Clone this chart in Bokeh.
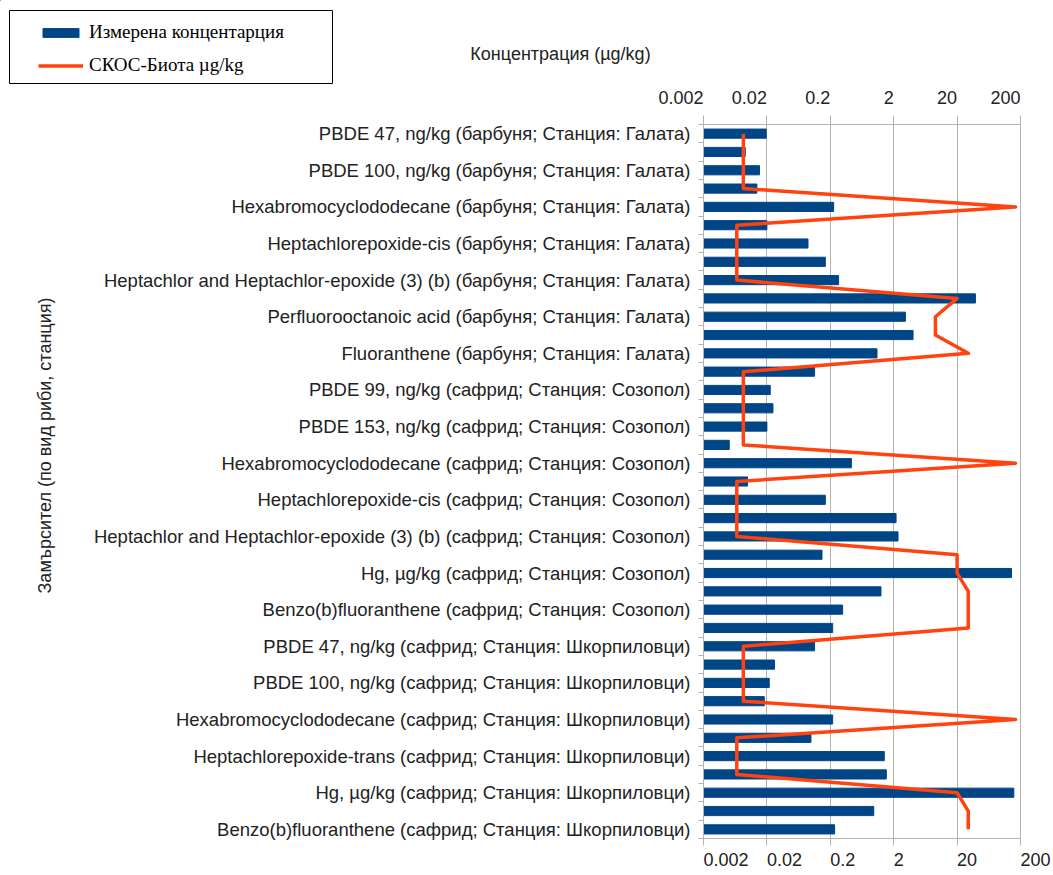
import math
from bokeh.plotting import figure
from bokeh.layouts import column
from bokeh.models import (FixedTicker, LogAxis, Range1d, Legend, LegendItem, Label,
                          Title, ColumnDataSource)
from bokeh.embed import file_html
from bokeh.resources import INLINE

categories = [
    "PBDE 47, ng/kg (барбуня; Станция: Галата)",
    "PBDE 99, ng/kg (барбуня; Станция: Галата)",
    "PBDE 100, ng/kg (барбуня; Станция: Галата)",
    "PBDE 153, ng/kg (барбуня; Станция: Галата)",
    "Hexabromocyclododecane (барбуня; Станция: Галата)",
    "Heptachlor (барбуня; Станция: Галата)",
    "Heptachlorepoxide-cis (барбуня; Станция: Галата)",
    "Heptachlorepoxide-trans (барбуня; Станция: Галата)",
    "Heptachlor and Heptachlor-epoxide (3) (b) (барбуня; Станция: Галата)",
    "Hg, µg/kg (барбуня; Станция: Галата)",
    "Perfluorooctanoic acid (барбуня; Станция: Галата)",
    "Perfluorooctane sulfonic acid (барбуня; Станция: Галата)",
    "Fluoranthene (барбуня; Станция: Галата)",
    "PBDE 47, ng/kg (сафрид; Станция: Созопол)",
    "PBDE 99, ng/kg (сафрид; Станция: Созопол)",
    "PBDE 100, ng/kg (сафрид; Станция: Созопол)",
    "PBDE 153, ng/kg (сафрид; Станция: Созопол)",
    "PBDE 154, ng/kg (сафрид; Станция: Созопол)",
    "Hexabromocyclododecane (сафрид; Станция: Созопол)",
    "Heptachlor (сафрид; Станция: Созопол)",
    "Heptachlorepoxide-cis (сафрид; Станция: Созопол)",
    "Heptachlorepoxide-trans (сафрид; Станция: Созопол)",
    "Heptachlor and Heptachlor-epoxide (3) (b) (сафрид; Станция: Созопол)",
    "Hg (сафрид; Станция: Созопол)",
    "Hg, µg/kg (сафрид; Станция: Созопол)",
    "Fluoranthene (сафрид; Станция: Созопол)",
    "Benzo(b)fluoranthene (сафрид; Станция: Созопол)",
    "Benzo(k)fluoranthene (сафрид; Станция: Созопол)",
    "PBDE 47, ng/kg (сафрид; Станция: Шкорпиловци)",
    "PBDE 99, ng/kg (сафрид; Станция: Шкорпиловци)",
    "PBDE 100, ng/kg (сафрид; Станция: Шкорпиловци)",
    "PBDE 153, ng/kg (сафрид; Станция: Шкорпиловци)",
    "Hexabromocyclododecane (сафрид; Станция: Шкорпиловци)",
    "Heptachlorepoxide-cis (сафрид; Станция: Шкорпиловци)",
    "Heptachlorepoxide-trans (сафрид; Станция: Шкорпиловци)",
    "Heptachlor and Heptachlor-epoxide (3) (b) (сафрид; Станция: Шкорпиловци)",
    "Hg, µg/kg (сафрид; Станция: Шкорпиловци)",
    "Fluoranthene (сафрид; Станция: Шкорпиловци)",
    "Benzo(b)fluoranthene (сафрид; Станция: Шкорпиловци)",
]

measured = [
    0.0195, 0.0091, 0.0153, 0.0139, 0.226, 0.020, 0.089, 0.167, 0.27,
    38.9, 3.06, 4.04, 1.09,
    0.113, 0.0226, 0.0249, 0.020, 0.0051, 0.43, 0.0099, 0.167, 2.18, 2.34,
    0.148, 144.0, 1.26, 0.313, 0.218,
    0.113, 0.0264, 0.0218, 0.0182, 0.218, 0.099, 1.42, 1.53, 157.0, 0.97, 0.234,
]

eqs_biota = [
    0.0085, 0.0085, 0.0085, 0.0085, 167.0, 0.0067, 0.0067, 0.0067, 0.0067,
    20.0, 9.1, 9.1, 30.0,
    0.0085, 0.0085, 0.0085, 0.0085, 0.0085, 167.0, 0.0067, 0.0067, 0.0067, 0.0067,
    20.0, 20.0, 30.0, 30.0, 30.0,
    0.0085, 0.0085, 0.0085, 0.0085, 167.0, 0.0067, 0.0067, 0.0067, 20.0, 30.0, 30.0,
]

x_ticks = [0.002, 0.02, 0.2, 2, 20, 200]
x_tick_labels = ["0.002", "0.02", "0.2", "2", "20", "200"]
x_min, x_max = 0.002, 200

series_names = ["Измерена концентарция", "СКОС-Биота µg/kg"]
x_title = "Концентрация (µg/kg)"
y_title = "Замърсител (по вид риби, станция)"

BAR_COLOR = "#004586"
LINE_COLOR = "#ff420e"
FONT = "Liberation Sans"
TEXT = "#222222"
GRID = "#b3b3b3"

n = len(categories)
idx = list(range(n))
src = ColumnDataSource(dict(y=idx, cat=categories, measured=measured, eqs=eqs_biota,
                            base=[x_min] * n))

HEAD_H = 84
W = 1053

# ---------------- header (legend + x title) ----------------
head = figure(width=W, height=HEAD_H, x_range=Range1d(0, W), y_range=Range1d(HEAD_H, 0),
              output_backend="svg", toolbar_location=None, frame_align=False,
              min_border_left=0, min_border_right=0, min_border_top=0, min_border_bottom=0)
head.axis.visible = False
head.grid.visible = False
head.outline_line_color = None
head.background_fill_color = "white"
head.border_fill_color = "white"

# legend frame
head.quad(left=[9], right=[332], top=[10], bottom=[83], fill_color="white",
          line_color="black", line_width=1)
# legend-only proxies (placed outside the visible header range)
proxy = ColumnDataSource(dict(x=[-500, -400], y=[-500, -500], l=[-500, -500], r=[-400, -400]))
hb = head.hbar(y="y", left="l", right="r", height=0.5, source=proxy,
               fill_color=BAR_COLOR, line_color=BAR_COLOR)
hl = head.line(x="x", y="y", source=proxy, line_color=LINE_COLOR, line_width=3.5)

legend = Legend(items=[LegendItem(label=series_names[0], renderers=[hb]),
                       LegendItem(label=series_names[1], renderers=[hl])],
                location=(38, 8))
legend.border_line_color = None
legend.background_fill_alpha = 0
legend.padding = 0
legend.spacing = 11
legend.margin = 0
legend.glyph_width = 45
legend.glyph_height = 11
legend.label_height = 20
legend.label_standoff = 6
legend.label_text_font = "Liberation Serif"
legend.label_text_font_size = "19px"
legend.label_text_color = "black"
legend.label_text_baseline = "middle"
head.add_layout(legend, "center")

head.add_layout(Label(x=560, y=53, text=x_title, text_align="center",
                      text_baseline="middle", text_font=FONT,
                      text_font_size="18px", text_color=TEXT))

# ---------------- main chart ----------------
p = figure(width=W, height=788, x_axis_type="log",
           x_range=Range1d(x_min, x_max), y_range=Range1d(n - 0.5, -0.5),
           output_backend="svg", toolbar_location=None, frame_align=False,
           min_border_left=703, min_border_right=33, min_border_top=38,
           min_border_bottom=32)
p.background_fill_color = "white"
p.border_fill_color = "white"
p.outline_line_color = GRID

bars = p.hbar(y="y", left="base", right="measured", height=0.5, source=src,
              fill_color=BAR_COLOR, line_color=BAR_COLOR)
line = p.line(x="eqs", y="y", source=src, line_color=LINE_COLOR, line_width=3.5,
              line_join="round")


def pad(s):
    return "".join("\u2008" if c == "." else "\u2007" for c in s)


bottom = p.below[0]
top = LogAxis()
p.add_layout(top, "above")
bottom.major_label_overrides = {t: pad(s) + s for t, s in zip(x_ticks, x_tick_labels)}
top.major_label_overrides = {t: s + pad(s) for t, s in zip(x_ticks, x_tick_labels)}
for ax, tick_len, stand in ((bottom, 7, 4), (top, 9, 8)):
    ax.ticker = FixedTicker(ticks=x_ticks)
    ax.axis_line_color = GRID
    ax.major_tick_line_color = GRID
    ax.major_tick_out = tick_len
    ax.major_tick_in = 0
    ax.minor_tick_line_color = None
    ax.major_label_text_font = FONT
    ax.major_label_text_font_size = "18px"
    ax.major_label_text_color = TEXT
    ax.major_label_standoff = stand

# y axis
ya = p.left[0]
ya.ticker = FixedTicker(ticks=[i for i in idx if i % 2 == 0],
                        minor_ticks=[i + 0.5 for i in range(-1, n)])
ya.major_label_overrides = {i: categories[i] for i in idx if i % 2 == 0}
ya.axis_line_color = GRID
ya.major_tick_line_color = None
ya.major_tick_out = 6
ya.minor_tick_line_color = GRID
ya.minor_tick_out = 5
ya.minor_tick_in = 0
ya.major_label_text_font = FONT
ya.major_label_text_font_size = "18.5px"
ya.major_label_text_color = TEXT
ya.major_label_standoff = 7

p.xgrid.ticker = FixedTicker(ticks=x_ticks)
p.xgrid.grid_line_color = GRID
p.ygrid.visible = False

p.add_layout(Title(text=y_title, align="left", vertical_align="top", offset=245,
                   standoff=68, text_font=FONT, text_font_size="18px",
                   text_font_style="normal", text_color=TEXT), "left")

layout = column(head, p, spacing=0)
open("out.html", "w").write(file_html(layout, INLINE))
